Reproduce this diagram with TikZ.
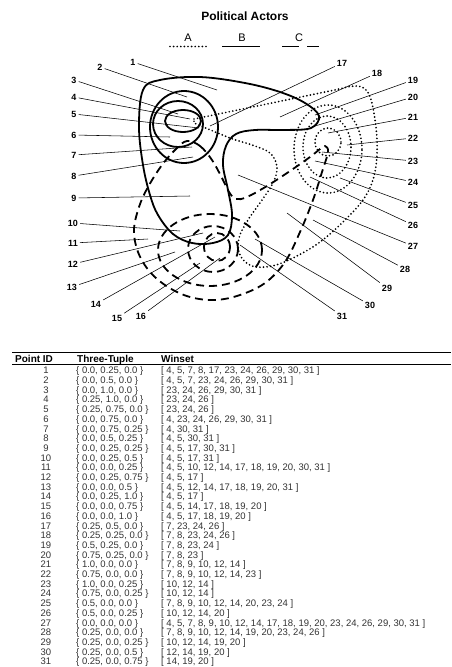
\documentclass[tikz,border=0pt]{standalone}
\usepackage{fontspec}
\setmainfont{Liberation Sans}
\begin{document}
\begin{tikzpicture}[x=1pt,y=-1pt,
  solidB/.style={line width=1.8pt},
  dotA/.style={line width=1.9pt, line cap=round, dash pattern=on 0pt off 3.6pt},
  dashC/.style={line width=1.8pt, dash pattern=on 8pt off 5pt},
  lead/.style={line width=0.55pt},
  lbl/.style={font=\bfseries\fontsize{9}{9}\selectfont, inner sep=2pt},
  tcell/.style={font=\fontsize{9.5}{10}\selectfont, inner sep=0pt, text=black!80},
  thead/.style={font=\bfseries\fontsize{10}{10}\selectfont, inner sep=0pt, anchor=base west},
  legtxt/.style={font=\fontsize{11}{11}\selectfont, inner sep=0pt}]
\useasboundingbox (0,0) rectangle (451,667);
\fill[white] (0,0) rectangle (451,667);

% title and legend
\node[font=\bfseries\fontsize{12}{12}\selectfont] (title) at (245,16.5) {Political Actors};
\node[legtxt] (legA) at (188,37.5) {A};
\node[legtxt] (legB) at (242,37.5) {B};
\node[legtxt] (legC) at (299,37.5) {C};
\coordinate (la1) at (170,46.5); \coordinate (la2) at (207,46.5);
\coordinate (lb1) at (222,46.5); \coordinate (lb2) at (260,46.5);
\coordinate (lc1) at (282,46.5); \coordinate (lc2) at (319,46.5);
\draw[dotA] (la1) -- (la2);
\draw[solidB] (lb1) -- (lb2);
\draw[line width=1.8pt, dash pattern=on 17pt off 8pt on 12pt] (lc1) -- (lc2);

% actor B (solid)
\draw[solidB] plot[smooth cycle, tension=0.6] coordinates {(143,90) (160,80) (200,77) (245,83) (280,92) (305,103) (319,116) (311,128) (285,130) (255,130) (236,134) (226,146) (223,165) (228,190) (232,215) (228,235) (213,243) (192,243) (173,234) (158,215) (150,195) (143,165) (139,127)};
\draw[solidB] (184,127) ellipse [x radius=34pt, y radius=36pt];
\draw[solidB] (178,124) ellipse [x radius=25pt, y radius=23pt];
\draw[solidB] (183,121) ellipse [x radius=18pt, y radius=11pt];

% actor A (dotted)
\draw[dotA] plot[smooth, tension=0.6] coordinates {(194,119) (262,105) (330,91) (355,86) (367,91) (373,108) (377,140) (375,172) (365,197) (345,220) (320,242) (295,257) (272,266) (252,266) (240,255) (239,238) (248,220) (262,200) (273,183) (277,167) (270,153) (252,145) (230,138) (194,123)} -- cycle;
\draw[dotA] (328,149) ellipse [x radius=34pt, y radius=44pt];
\draw[dotA] (327,147) ellipse [x radius=24pt, y radius=31pt];
\draw[dotA] (328,142) ellipse [x radius=13pt, y radius=14pt];

% actor C (dashed)
\draw[dashC] plot[smooth cycle, tension=0.6] coordinates {(187,141) (200,146) (212,160) (222,178) (229,192) (236,199) (247,197) (267,186) (290,171) (310,157) (320,149) (325,146) (328,152) (322,172) (313,200) (300,232) (285,262) (265,283) (240,295) (215,300) (190,297) (168,287) (150,272) (138,252) (134,230) (139,207) (148,187) (162,165) (176,149)};
\draw[dashC] (217,247) ellipse [x radius=13pt, y radius=14pt];
\draw[dashC] (213,249) ellipse [x radius=25pt, y radius=23pt];
\draw[dashC] (210,250) ellipse [x radius=52pt, y radius=36pt];

% point labels and leaders
\foreach \n/\lx/\ly/\px/\py in {
 1/133/62/217/90, 2/100/67/187/97, 3/74/80/178/114, 4/74/97/190/119,
 5/74/114/199/128, 6/74/135/170/137, 7/74/155/192/147, 8/74/176/193/157,
 9/74/198/190/196, 10/73/223/180/231, 11/73/243/148/239, 12/73/264/203/233,
 13/72/287/175/252, 14/96/304/215/237, 15/117/318/200/263, 16/141/316/220/258,
 17/342/63/210/126, 18/377/73/280/117, 19/413/80/315/115, 20/413/97/315/126,
 21/413/117/328/133, 22/413/138/347/145, 23/413/161/322/152, 24/413/182/315/161,
 25/413/205/340/178, 26/413/225/310/177, 27/413/246/238/175, 28/405/269/313/220,
 29/387/288/287/213, 30/370/305/255/239, 31/342/316/240/245}{
  \node[lbl] (l\n) at (\lx,\ly) {\n};
  \coordinate (p\n) at (\px,\py);
  \draw[lead] (l\n) -- (p\n);
}

% table
\coordinate (r1a) at (12,352.3); \coordinate (r1b) at (451,352.3);
\coordinate (r2a) at (12,364); \coordinate (r2b) at (451,364);
\draw[line width=1.3pt] (r1a) -- (r1b);
\draw[line width=0.6pt] (r2a) -- (r2b);
\node[thead] (hid) at (15,362.3) {Point ID};
\node[thead] (htt) at (77,362.3) {Three-Tuple};
\node[thead] (hws) at (161,362.3) {Winset};

\newcommand\trow[3]{%
  \pgfmathsetmacro\ry{373.8+(#1-1)*9.7}%
  \node[tcell, anchor=base] (id#1) at (46,\ry) {#1};
  \node[tcell, anchor=base west] (tt#1) at (76,\ry) {\{ #2 \}};
  \node[tcell, anchor=base west] (ws#1) at (161,\ry) {[ #3 ]};}
\trow{1}{0.0, 0.25, 0.0}{4, 5, 7, 8, 17, 23, 24, 26, 29, 30, 31}
\trow{2}{0.0, 0.5, 0.0}{4, 5, 7, 23, 24, 26, 29, 30, 31}
\trow{3}{0.0, 1.0, 0.0}{23, 24, 26, 29, 30, 31}
\trow{4}{0.25, 1.0, 0.0}{23, 24, 26}
\trow{5}{0.25, 0.75, 0.0}{23, 24, 26}
\trow{6}{0.0, 0.75, 0.0}{4, 23, 24, 26, 29, 30, 31}
\trow{7}{0.0, 0.75, 0.25}{4, 30, 31}
\trow{8}{0.0, 0.5, 0.25}{4, 5, 30, 31}
\trow{9}{0.0, 0.25, 0.25}{4, 5, 17, 30, 31}
\trow{10}{0.0, 0.25, 0.5}{4, 5, 17, 31}
\trow{11}{0.0, 0.0, 0.25}{4, 5, 10, 12, 14, 17, 18, 19, 20, 30, 31}
\trow{12}{0.0, 0.25, 0.75}{4, 5, 17}
\trow{13}{0.0, 0.0, 0.5}{4, 5, 12, 14, 17, 18, 19, 20, 31}
\trow{14}{0.0, 0.25, 1.0}{4, 5, 17}
\trow{15}{0.0, 0.0, 0.75}{4, 5, 14, 17, 18, 19, 20}
\trow{16}{0.0, 0.0, 1.0}{4, 5, 17, 18, 19, 20}
\trow{17}{0.25, 0.5, 0.0}{7, 23, 24, 26}
\trow{18}{0.25, 0.25, 0.0}{7, 8, 23, 24, 26}
\trow{19}{0.5, 0.25, 0.0}{7, 8, 23, 24}
\trow{20}{0.75, 0.25, 0.0}{7, 8, 23}
\trow{21}{1.0, 0.0, 0.0}{7, 8, 9, 10, 12, 14}
\trow{22}{0.75, 0.0, 0.0}{7, 8, 9, 10, 12, 14, 23}
\trow{23}{1.0, 0.0, 0.25}{10, 12, 14}
\trow{24}{0.75, 0.0, 0.25}{10, 12, 14}
\trow{25}{0.5, 0.0, 0.0}{7, 8, 9, 10, 12, 14, 20, 23, 24}
\trow{26}{0.5, 0.0, 0.25}{10, 12, 14, 20}
\trow{27}{0.0, 0.0, 0.0}{4, 5, 7, 8, 9, 10, 12, 14, 17, 18, 19, 20, 23, 24, 26, 29, 30, 31}
\trow{28}{0.25, 0.0, 0.0}{7, 8, 9, 10, 12, 14, 19, 20, 23, 24, 26}
\trow{29}{0.25, 0.0, 0.25}{10, 12, 14, 19, 20}
\trow{30}{0.25, 0.0, 0.5}{12, 14, 19, 20}
\trow{31}{0.25, 0.0, 0.75}{14, 19, 20}
\end{tikzpicture}
\end{document}
